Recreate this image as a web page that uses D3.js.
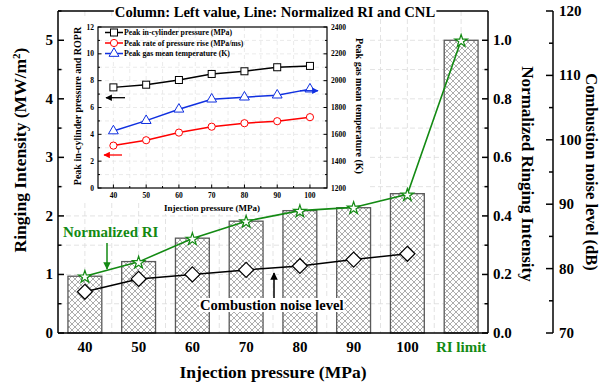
<!DOCTYPE html>
<html><head><meta charset="utf-8">
<script src="https://cdn.jsdelivr.net/npm/d3@7"></script>
<style>body{margin:0;background:#fff}svg{display:block}text{font-family:"Liberation Serif","Times New Roman",serif;font-weight:bold}</style>
</head><body><svg id="c" width="602" height="387"></svg>
<script>
// ---- data ----
const categories = ["40","50","60","70","80","90","100","RI limit"];
const ringingIntensity = [0.97,1.22,1.62,1.91,2.09,2.14,2.38,5.0];      // MW/m2 (bars)
const normalizedRI = [0.194,0.243,0.323,0.382,0.418,0.429,0.474,1.0];    // green stars
const cnlCategories = ["40","50","60","70","80","90","100"];
const combustionNoise = [76.4,78.4,79.1,79.8,80.4,81.4,82.3];            // dB
const injPressure = [40,50,60,70,80,90,100];
const peakPressure = [7.5,7.7,8.05,8.5,8.7,9.0,9.1];                     // MPa
const peakROPR = [3.16,3.56,4.13,4.57,4.83,4.98,5.28];                   // MPa/ms
const peakTemp = [1625,1702,1787,1862,1877,1892,1937];                   // K
const leftTicks = [0,1,2,3,4,5];
const normTicks = [0,0.2,0.4,0.6,0.8,1.0];
const cnlTicks = [70,80,90,100,110,120];
const insetLeftTicks = [0,2,4,6,8,10,12];
const insetRightTicks = [1200,1400,1600,1800,2000,2200,2400];
const insetXTicks = [40,50,60,70,80,90,100];
const legendLabels = ["Peak in-cylinder pressure (MPa)","Peak rate of pressure rise (MPa/ms)","Peak gas mean temperature (K)"];

const svg = d3.select("#c");
const green = "#138a13";
const L=58,R=488,T=11,B=333,R2=553;

const x = d3.scaleBand().domain(categories).range([L,R]).paddingInner(0.37).paddingOuter(0.185);
const xc = d => x(d)+x.bandwidth()/2;
const yL = d3.scaleLinear().domain([0,5.5]).range([B,T]);
const yN = d3.scaleLinear().domain([0,1.1]).range([B,T]);
const yC = d3.scaleLinear().domain([70,120]).range([B,T]);

// defs
const defs = svg.append("defs");
const pat = defs.append("pattern").attr("id","hatch").attr("patternUnits","userSpaceOnUse").attr("width",6).attr("height",6);
pat.append("rect").attr("width",6).attr("height",6).attr("fill","#fff");
pat.append("path").attr("d","M0,0L6,6M6,0L0,6M-1,5L1,7M5,-1L7,1M-1,1L1,-1M5,7L7,5").attr("stroke","#8a8a8a").attr("stroke-width",0.7);
function arrowMarker(id,color){
  defs.append("marker").attr("id",id).attr("viewBox","0 0 10 10").attr("refX",9).attr("refY",5)
   .attr("markerWidth",5).attr("markerHeight",5).attr("orient","auto-start-reverse")
   .append("path").attr("d","M0,0L10,5L0,10Z").attr("fill",color);
}
arrowMarker("ak","#000");arrowMarker("ag",green);arrowMarker("ar","#f00");arrowMarker("ab","#1030e0");

// main grid
const grid = svg.append("g").attr("stroke","#dcdcdc").attr("stroke-dasharray","5,3").attr("stroke-width",0.8);
grid.selectAll("line.h").data(d3.range(0.5,5.5,0.5)).join("line").attr("x1",L).attr("x2",R).attr("y1",d=>yL(d)).attr("y2",d=>yL(d));
const step = x.step();
grid.selectAll("line.v").data(d3.range(1,16)).join("line").attr("x1",d=>L+d*step/2).attr("x2",d=>L+d*step/2).attr("y1",T).attr("y2",B);

// inset background (drawn before the main marks)
svg.append("rect").attr("x",66).attr("y",19).attr("width",303).attr("height",183).attr("fill","#fff");
svg.append("rect").attr("x",150).attr("y",200).attr("width",126).attr("height",14).attr("fill","#fff");

// bars
svg.append("g").selectAll("rect").data(ringingIntensity).join("rect")
  .attr("x",(d,i)=>x(categories[i])).attr("width",x.bandwidth())
  .attr("y",d=>yL(d)).attr("height",d=>B-yL(d))
  .attr("fill","url(#hatch)").attr("stroke","#5a5a5a").attr("stroke-width",1.3);

// CNL line
svg.append("path").datum(combustionNoise)
  .attr("d",d3.line().x((d,i)=>xc(cnlCategories[i])).y(d=>yC(d)))
  .attr("fill","none").attr("stroke","#000").attr("stroke-width",1.5);
svg.append("g").selectAll("path").data(combustionNoise).join("path")
  .attr("transform",(d,i)=>`translate(${xc(cnlCategories[i])},${yC(d)})`)
  .attr("d","M0,-7.5L7.5,0L0,7.5L-7.5,0Z").attr("fill","#fff").attr("stroke","#000").attr("stroke-width",1.2);

// normalized RI line
svg.append("path").datum(normalizedRI)
  .attr("d",d3.line().x((d,i)=>xc(categories[i])).y(d=>yN(d)))
  .attr("fill","none").attr("stroke",green).attr("stroke-width",1.6);
svg.append("g").selectAll("path").data(normalizedRI).join("path")
  .attr("transform",(d,i)=>`translate(${xc(categories[i])},${yN(d)+0.8})`)
  .attr("d",d3.symbol(d3.symbolStar,48)).attr("fill","#fff").attr("stroke",green).attr("stroke-width",1.2);

// annotations
svg.append("text").attr("x",63).attr("y",237).attr("fill",green).attr("font-size",15).text("Normalized RI");
svg.append("line").attr("x1",107).attr("x2",107).attr("y1",243).attr("y2",269).attr("stroke",green).attr("stroke-width",1.5).attr("marker-end","url(#ag)");
const cnlG = svg.append("g");
const cnlT = cnlG.append("text").attr("x",200).attr("y",310).attr("fill","#000").attr("font-size",14.6).text("Combustion noise level");
const bb = cnlT.node().getBBox();
cnlG.insert("rect","text").attr("x",bb.x-1).attr("y",bb.y+1).attr("width",bb.width+2).attr("height",bb.height-2).attr("fill","#fff");
svg.append("line").attr("x1",274).attr("x2",274).attr("y1",298).attr("y2",273).attr("stroke","#000").attr("stroke-width",1.5).attr("marker-end","url(#ak)");

// ---- inset ----
const IL=98,IR=327,IT=27,IB=188;
const xI = d3.scaleLinear().domain([35.3,105.2]).range([IL,IR]);
const yI = d3.scaleLinear().domain([0,12]).range([IB,IT]);
const yT = d3.scaleLinear().domain([1200,2400]).range([IB,IT]);
const ig = svg.append("g").attr("stroke","#e2e2e2").attr("stroke-dasharray","4,3").attr("stroke-width",0.7);
ig.selectAll("line.h").data(d3.range(1,12,1)).join("line").attr("x1",IL).attr("x2",IR).attr("y1",d=>yI(d)).attr("y2",d=>yI(d));
ig.selectAll("line.v").data(d3.range(40,105,5)).join("line").attr("x1",d=>xI(d)).attr("x2",d=>xI(d)).attr("y1",IT).attr("y2",IB);

const inset = svg.append("g");
inset.append("path").datum(peakPressure).attr("d",d3.line().x((d,i)=>xI(injPressure[i])).y(d=>yI(d))).attr("fill","none").attr("stroke","#000").attr("stroke-width",1.5);
inset.append("path").datum(peakROPR).attr("d",d3.line().x((d,i)=>xI(injPressure[i])).y(d=>yI(d))).attr("fill","none").attr("stroke","#f00").attr("stroke-width",1.5);
inset.append("path").datum(peakTemp).attr("d",d3.line().x((d,i)=>xI(injPressure[i])).y(d=>yT(d))).attr("fill","none").attr("stroke","#1030e0").attr("stroke-width",1.5);
inset.selectAll("rect.s").data(peakPressure).join("rect").attr("x",(d,i)=>xI(injPressure[i])-3.5).attr("y",d=>yI(d)-3.5).attr("width",7).attr("height",7).attr("fill","#fff").attr("stroke","#000").attr("stroke-width",1);
inset.selectAll("circle").data(peakROPR).join("circle").attr("cx",(d,i)=>xI(injPressure[i])).attr("cy",d=>yI(d)).attr("r",3.6).attr("fill","#fff").attr("stroke","#f00").attr("stroke-width",1);
inset.selectAll("path.t").data(peakTemp).join("path").attr("class","t").attr("transform",(d,i)=>`translate(${xI(injPressure[i])},${yT(d)})`).attr("d",d3.symbol(d3.symbolTriangle,42)).attr("fill","#fff").attr("stroke","#1030e0").attr("stroke-width",1);

// inset axes
function insetAxis(){
  const a = svg.append("g").attr("stroke","#000").attr("stroke-width",1.2);
  a.append("rect").attr("x",IL).attr("y",IT).attr("width",IR-IL).attr("height",IB-IT).attr("fill","none");
  const tk = svg.append("g").attr("stroke","#000").attr("stroke-width",1);
  tk.selectAll("line.l").data(d3.range(0,13,1)).join("line").attr("x1",IL).attr("x2",d=>IL+(d%2?2:3.5)).attr("y1",d=>yI(d)).attr("y2",d=>yI(d));
  tk.selectAll("line.r").data(d3.range(1200,2401,100)).join("line").attr("x1",IR).attr("x2",d=>IR-(d%200?2:3.5)).attr("y1",d=>yT(d)).attr("y2",d=>yT(d));
  tk.selectAll("line.b").data(d3.range(40,105,5)).join("line").attr("x1",d=>xI(d)).attr("x2",d=>xI(d)).attr("y1",IB).attr("y2",d=>IB-(d%10?2:3.5));
  const t = svg.append("g").attr("font-size",7.5);
  t.selectAll("text.l").data(insetLeftTicks).join("text").attr("x",IL-4).attr("y",d=>yI(d)+2.6).attr("text-anchor","end").text(d=>d);
  t.selectAll("text.r").data(insetRightTicks).join("text").attr("x",IR+4).attr("y",d=>yT(d)+2.6).text(d=>d);
  t.selectAll("text.b").data(insetXTicks).join("text").attr("x",d=>xI(d)).attr("y",IB+10).attr("text-anchor","middle").text(d=>d);
  svg.append("text").attr("x",212).attr("y",211).attr("text-anchor","middle").attr("font-size",9).text("Injection pressure (MPa)");
  svg.append("text").attr("transform","translate(81,106) rotate(-90)").attr("text-anchor","middle").attr("font-size",10).text("Peak in-cylinder pressure and ROPR");
  svg.append("text").attr("transform","translate(356,106) rotate(90)").attr("text-anchor","middle").attr("font-size",10).text("Peak gas mean temperature (K)");
}
insetAxis();
// inset legend
const legColors = ["#000","#f00","#1030e0"];
legendLabels.forEach((lab,i)=>{
  const yy = 32.5+i*10.5;
  svg.append("line").attr("x1",105).attr("x2",123).attr("y1",yy).attr("y2",yy).attr("stroke",legColors[i]).attr("stroke-width",1.5);
  if(i===0) svg.append("rect").attr("x",110.5).attr("y",yy-3.5).attr("width",7).attr("height",7).attr("fill","#fff").attr("stroke","#000");
  if(i===1) svg.append("circle").attr("cx",114).attr("cy",yy).attr("r",3.6).attr("fill","#fff").attr("stroke","#f00");
  if(i===2) svg.append("path").attr("transform",`translate(114,${yy})`).attr("d",d3.symbol(d3.symbolTriangle,42)).attr("fill","#fff").attr("stroke","#1030e0");
  svg.append("text").attr("x",124).attr("y",yy+2.7).attr("font-size",7.8).text(lab);
});
// inset arrows
svg.append("line").attr("x1",125).attr("x2",106).attr("y1",97.7).attr("y2",97.7).attr("stroke","#000").attr("stroke-width",1.3).attr("marker-end","url(#ak)");
svg.append("line").attr("x1",122).attr("x2",104).attr("y1",155).attr("y2",155).attr("stroke","#f00").attr("stroke-width",1.3).attr("marker-end","url(#ar)");
svg.append("line").attr("x1",300).attr("x2",318).attr("y1",90.7).attr("y2",90.7).attr("stroke","#1030e0").attr("stroke-width",1.3).attr("marker-end","url(#ab)");

// ---- main axes ----
const ax = svg.append("g").attr("stroke","#000").attr("stroke-width",1.5);
ax.append("line").attr("x1",L).attr("x2",L).attr("y1",T).attr("y2",B);
ax.append("line").attr("x1",R).attr("x2",R).attr("y1",T).attr("y2",B);
ax.append("line").attr("x1",L).attr("x2",R).attr("y1",B).attr("y2",B);
ax.append("line").attr("x1",R2).attr("x2",R2).attr("y1",T).attr("y2",B);
ax.selectAll("line.lt").data(d3.range(0,5.6,0.5)).join("line").attr("x1",L).attr("x2",d=>L+(d%1?3.5:6)).attr("y1",d=>yL(d)).attr("y2",d=>yL(d));
ax.selectAll("line.rt").data(d3.range(0,11).map(d=>d/10)).join("line").attr("x1",R).attr("x2",(d,i)=>R-(i%2?3.5:6)).attr("y1",d=>yN(d)).attr("y2",d=>yN(d));
ax.selectAll("line.ct").data(d3.range(70,121,5)).join("line").attr("x1",R2).attr("x2",d=>R2-(d%10?4:7)).attr("y1",d=>yC(d)).attr("y2",d=>yC(d));

const tl = svg.append("g").attr("font-size",15);
tl.selectAll("text.l").data(leftTicks).join("text").attr("x",L-5).attr("y",d=>yL(d)+5).attr("text-anchor","end").text(d=>d);
tl.selectAll("text.n").data(normTicks).join("text").attr("x",R+5).attr("y",d=>yN(d)+5).text(d=>d.toFixed(1));
tl.selectAll("text.c").data(cnlTicks).join("text").attr("x",R2+6).attr("y",d=>yC(d)+5).text(d=>d);
tl.selectAll("text.x").data(categories).join("text").attr("x",d=>xc(d)).attr("y",352).attr("text-anchor","middle")
  .attr("fill",d=>d==="RI limit"?green:"#000").text(d=>d);

svg.append("text").attr("x",273).attr("y",378).attr("text-anchor","middle").attr("font-size",17.5).text("Injection pressure (MPa)");
const lt = svg.append("text").attr("transform","translate(26,150) rotate(-90)").attr("text-anchor","middle").attr("font-size",17.5);
lt.append("tspan").text("Ringing Intensity (MW/m");
lt.append("tspan").attr("dy",-6).attr("font-size",11).text("2");
lt.append("tspan").attr("dy",6).text(")");
svg.append("text").attr("transform","translate(522,174) rotate(90)").attr("text-anchor","middle").attr("font-size",17).text("Normalized Ringing Intensity");
svg.append("text").attr("transform","translate(586,172) rotate(90)").attr("text-anchor","middle").attr("font-size",16.5).text("Combustion noise level (dB)");

// title with broken top border
const title = svg.append("text").attr("x",275).attr("y",17).attr("text-anchor","middle").attr("font-size",14.6).text("Column: Left value, Line: Normalized RI and CNL");
const tb = title.node().getBBox();
ax.append("line").attr("x1",L).attr("x2",tb.x-1).attr("y1",T).attr("y2",T);
ax.append("line").attr("x1",tb.x+tb.width+1).attr("x2",R).attr("y1",T).attr("y2",T);
</script></body></html>
